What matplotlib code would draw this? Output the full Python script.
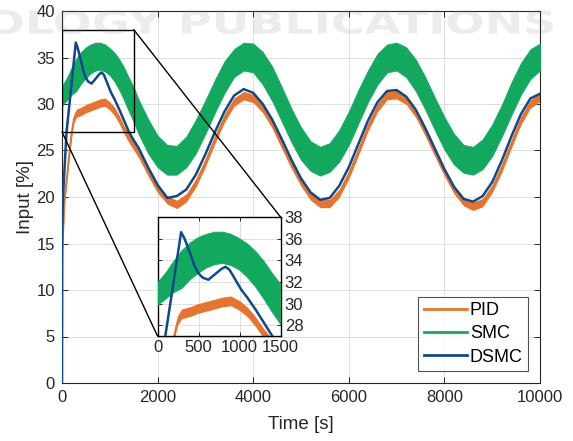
import matplotlib
matplotlib.use("Agg")
import matplotlib.pyplot as plt
import numpy as np
from matplotlib.lines import Line2D
from matplotlib.patches import Rectangle, ConnectionPatch, PathPatch
from matplotlib.textpath import TextPath
from matplotlib.font_manager import FontProperties
from matplotlib.transforms import Affine2D

plt.rcParams['font.family'] = ['Liberation Sans', 'DejaVu Sans']

# ---------------- data ----------------
t_pid = [0, 5, 50, 100, 150, 200, 250, 300,
         400, 500, 600, 700, 800, 900, 1000, 1100, 1200, 1300, 1400, 1500,
         1600, 1800, 2000, 2200, 2400, 2600, 2800, 3000, 3200, 3400, 3600, 3800,
         4000, 4200, 4400, 4600, 4800, 5000, 5200, 5400, 5600, 5800, 6000, 6200,
         6400, 6600, 6800, 7000, 7200, 7400, 7600, 7800, 8000, 8200, 8400, 8600,
         8800, 9000, 9200, 9400, 9600, 9800, 10000]
pid = [0, 14.0, 19.5, 22.0, 24.5, 26.8, 28.4, 29.0,
       29.2, 29.5, 29.7, 29.9, 30.1, 30.2, 29.8, 29.2, 28.3, 27.2, 26.3, 25.5,
       24.7, 22.7, 20.9, 19.7, 19.2, 19.9, 21.5, 23.7, 26.2, 28.5, 30.2, 30.9,
       30.6, 29.5, 27.8, 25.6, 23.5, 21.6, 20.1, 19.3, 19.3, 20.4, 22.4, 24.9,
       27.5, 29.6, 30.9, 31.0, 30.4, 29.0, 27.0, 24.8, 22.7, 20.8, 19.5, 19.0,
       19.4, 20.9, 23.1, 25.7, 28.2, 30.0, 30.7]
pid_noise = 0.45  # half height of the PID noise band

t_dsmc = [0, 3, 20, 95, 150, 200, 250, 288, 330, 400, 450, 500, 550, 620, 700,
          780, 830, 880, 950, 1020, 1100, 1200, 1300, 1400, 1500,
          1600, 1800, 2000, 2200, 2400, 2600, 2800, 3000, 3200, 3400, 3600, 3800,
          4000, 4200, 4400, 4600, 4800, 5000, 5200, 5400, 5600, 5800, 6000, 6200,
          6400, 6600, 6800, 7000, 7200, 7400, 7600, 7800, 8000, 8200, 8400, 8600,
          8800, 9000, 9200, 9400, 9600, 9800, 10000]
dsmc = [0, 16.0, 20.0, 27.0, 29.7, 32.2, 34.7, 36.6, 36.0, 34.6, 33.5, 32.8, 32.4, 32.2, 32.7,
        33.2, 33.4, 33.1, 32.2, 31.3, 30.5, 29.4, 28.2, 27.0, 26.1,
        25.3, 23.2, 21.3, 19.9, 20.1, 20.8, 22.4, 24.6, 27.0, 29.2, 30.9, 31.6,
        31.2, 30.0, 28.3, 26.2, 24.0, 22.0, 20.5, 19.7, 19.9, 21.2, 23.2, 25.7,
        28.2, 30.2, 31.4, 31.5, 30.8, 29.4, 27.4, 25.2, 23.0, 21.1, 19.8, 19.5,
        20.1, 21.6, 23.9, 26.5, 28.9, 30.6, 31.1]

t_smc = [0, 100, 200, 300, 400, 500, 600, 700, 800, 900, 1000, 1100, 1200, 1300, 1400, 1500,
         1600, 1800, 2000, 2200, 2400, 2600, 2800, 3000, 3200, 3400, 3600, 3800,
         4000, 4200, 4400, 4600, 4800, 5000, 5200, 5400, 5600, 5800, 6000, 6200,
         6400, 6600, 6800, 7000, 7200, 7400, 7600, 7800, 8000, 8200, 8400, 8600,
         8800, 9000, 9200, 9400, 9600, 9800, 10000]
smc_upper = [31.9, 32.8, 33.9, 34.9, 35.6, 36.1, 36.4, 36.6, 36.6, 36.4, 36.0, 35.5, 34.8, 33.9, 32.8, 31.8,
             30.5, 28.4, 26.6, 25.6, 25.5, 26.5, 28.3, 30.4, 32.6, 34.6, 35.9, 36.6,
             36.5, 35.6, 34.0, 31.8, 29.5, 27.5, 26.0, 25.4, 25.8, 27.2, 29.2, 31.5,
             33.6, 35.4, 36.4, 36.6, 36.1, 34.8, 32.9, 30.7, 28.6, 26.8, 25.6, 25.4,
             26.2, 27.8, 29.9, 32.3, 34.4, 35.9, 36.5]
smc_lower = [29.8, 30.4, 31.0, 31.4, 32.2, 32.8, 33.3, 33.6, 33.7, 33.5, 33.1, 32.4, 31.5, 30.4, 29.2, 28.1,
             26.8, 24.7, 23.2, 22.4, 22.4, 23.2, 24.7, 26.8, 29.1, 31.2, 32.9, 33.6,
             33.4, 32.1, 30.3, 28.1, 25.9, 24.0, 22.8, 22.3, 22.7, 23.8, 25.6, 27.9,
             30.2, 32.1, 33.4, 33.6, 32.9, 31.4, 29.4, 27.2, 25.1, 23.5, 22.6, 22.4,
             23.0, 24.4, 26.5, 28.8, 31.0, 32.7, 33.6]

labels = ['PID', 'SMC', 'DSMC']
x_ticks = [0, 2000, 4000, 6000, 8000, 10000]
y_ticks = [0, 5, 10, 15, 20, 25, 30, 35, 40]
inset_x_ticks = [0, 500, 1000, 1500]
inset_y_ticks = [28, 30, 32, 34, 36, 38]
zoom_box = (0, 1500, 27, 38)

C_PID = '#E8732C'
C_SMC = '#12A95E'
C_DSMC = '#0D4A8C'
TXT = '#262626'
GRID = '#DEDEDE'

pid_arr = np.array(pid)


def draw_series(a):
    a.fill_between(t_pid, pid_arr - pid_noise, pid_arr + pid_noise, color=C_PID,
                   lw=0, zorder=2)
    a.plot(t_pid, pid, color=C_PID, lw=1.4, zorder=2)
    a.fill_between(t_smc, smc_lower, smc_upper, color=C_SMC, lw=0.6,
                   edgecolor=C_SMC, zorder=3)
    a.plot(t_dsmc, dsmc, color=C_DSMC, lw=1.8, zorder=4)


W, H = 573, 441
fig = plt.figure(figsize=(W / 100, H / 100), dpi=100)
ax = fig.add_axes([62 / W, 58 / H, 478 / W, 372 / H])
draw_series(ax)
ax.set_xlim(0, 10000)
ax.set_ylim(0, 40)
ax.set_xticks(x_ticks)
ax.set_yticks(y_ticks)
ax.grid(True, color=GRID, lw=0.7, zorder=0)
ax.set_axisbelow(True)
ax.tick_params(direction='in', length=4, width=0.7, top=True, right=True,
               colors=TXT, labelsize=12, pad=5)
for s in ax.spines.values():
    s.set_color(TXT)
    s.set_linewidth(0.8)
ax.set_xlabel('Time [s]', fontsize=13.5, color=TXT, labelpad=8)
ax.set_ylabel('Input [%]', fontsize=13.5, color=TXT, labelpad=2)

handles = [Line2D([], [], color=c, lw=2.0) for c in (C_PID, C_SMC, C_DSMC)]
leg = ax.legend(handles, labels, loc='lower right', bbox_to_anchor=(0.975, 0.032),
                borderaxespad=0, fontsize=13, handlelength=2.4, handletextpad=0.15,
                labelspacing=0.35, borderpad=0.3, frameon=True, fancybox=False)
leg.get_frame().set_edgecolor(TXT)
leg.get_frame().set_linewidth(0.8)
leg.set_zorder(20)

# zoom rectangle on the main axes
x0, x1, y0, y1 = zoom_box
ax.add_patch(Rectangle((x0, y0), x1 - x0, y1 - y0, fill=False, edgecolor='black',
                       lw=1.0, zorder=6))

# inset
axi = fig.add_axes([157.5 / W, (H - 336) / H, 123 / W, 119 / H])
draw_series(axi)
axi.set_xlim(x0, x1)
axi.set_ylim(y0, y1)
axi.set_xticks(inset_x_ticks)
axi.set_yticks(inset_y_ticks)
axi.grid(True, color=GRID, lw=0.7, zorder=0)
axi.set_axisbelow(True)
axi.yaxis.tick_right()
axi.tick_params(direction='in', length=3, width=0.7, top=True, left=True, right=True,
                colors=TXT, labelsize=12, pad=3)
for s in axi.spines.values():
    s.set_color('black')
    s.set_linewidth(1.0)
axi.set_zorder(8)

for pa, pb in (((x1, y1), (1, 1)), ((x0, y0), (0, 0))):
    con = ConnectionPatch(xyA=pa, coordsA=ax.transData, xyB=pb, coordsB=axi.transAxes,
                          color='black', lw=1.0, zorder=7)
    fig.add_artist(con)

# faint watermark
tp = TextPath((0, 0), 'OLOGY PUBLICATIONS', size=100,
              prop=FontProperties(family='DejaVu Sans', weight='bold'))
ext = tp.get_extents()
bx0, bx1, by0, by1 = -12, 553, H - 34, H - 10
tr = (Affine2D().translate(-ext.x0, -ext.y0)
      .scale((bx1 - bx0) / ext.width, (by1 - by0) / ext.height)
      .translate(bx0, by0).scale(1 / W, 1 / H) + fig.transFigure)
wm = PathPatch(tp, transform=tr, facecolor='#808080', edgecolor='none', alpha=0.15,
               zorder=30)
fig.add_artist(wm)

fig.savefig('out.png', dpi=100)
